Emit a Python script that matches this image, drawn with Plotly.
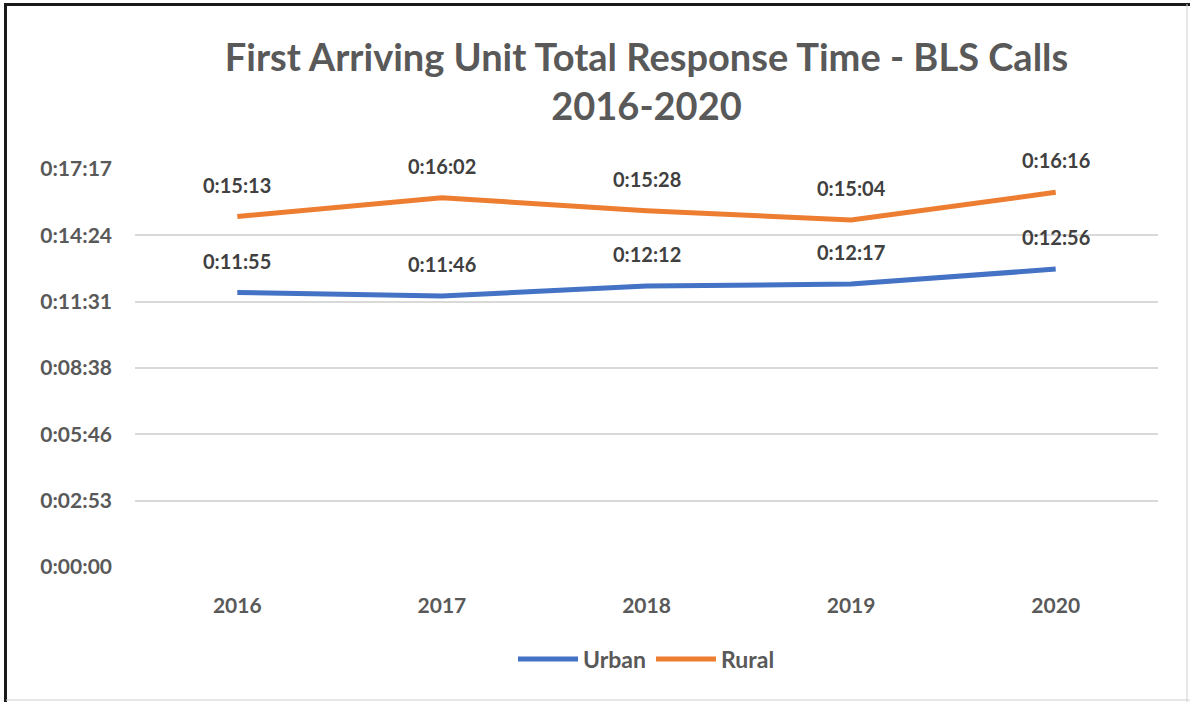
import plotly.graph_objects as go

years = ["2016", "2017", "2018", "2019", "2020"]
urban_labels = ["0:11:55", "0:11:46", "0:12:12", "0:12:17", "0:12:56"]
rural_labels = ["0:15:13", "0:16:02", "0:15:28", "0:15:04", "0:16:16"]
tick_labels = ["0:00:00", "0:02:53", "0:05:46", "0:08:38", "0:11:31", "0:14:24", "0:17:17"]

def to_sec(s):
    h, m, sec = s.split(":")
    return int(h) * 3600 + int(m) * 60 + int(sec)

urban = [to_sec(s) for s in urban_labels]
rural = [to_sec(s) for s in rural_labels]
tick_vals = [i * 172.8 for i in range(len(tick_labels))]

W, H = 1192, 702
L, R, T, B = 135, 34, 169, 135
FONT = "Lato"
GRAY = "#595959"

fig = go.Figure()
fig.add_trace(go.Scatter(x=years, y=urban, name="Urban", mode="lines",
                         line=dict(color="#4472C4", width=5)))
fig.add_trace(go.Scatter(x=years, y=rural, name="Rural", mode="lines",
                         line=dict(color="#ED7D31", width=5)))

anns = []
for ys, labs in [(urban, urban_labels), (rural, rural_labels)]:
    for i, (y, lab) in enumerate(zip(ys, labs)):
        anns.append(dict(x=i, y=y, xref="x", yref="y", text=lab, showarrow=False, yshift=32,
                         font=dict(family=FONT, size=20, color="#404040", weight="bold")))

pw = W - L - R
ph = H - T - B
def px(x):
    return (x - L) / pw
def py(y):
    return (H - B - y) / ph

shapes = [
    dict(type="line", xref="paper", yref="paper", x0=px(5.5), x1=px(5.5), y0=py(3), y1=py(702),
         line=dict(color="#1a1a1a", width=3)),
    dict(type="line", xref="paper", yref="paper", x0=px(4), x1=px(1190), y0=py(4.5), y1=py(4.5),
         line=dict(color="#1a1a1a", width=3)),
    dict(type="line", xref="paper", yref="paper", x0=px(1187), x1=px(1187), y0=py(4), y1=py(702),
         line=dict(color="#d0d0d0", width=1)),
    dict(type="line", xref="paper", yref="paper", x0=px(6), x1=px(1190), y0=py(700), y1=py(700),
         line=dict(color="#d0d0d0", width=1)),
]

fig.update_layout(
    width=W, height=H,
    margin=dict(l=L, r=R, t=T, b=B),
    paper_bgcolor="white", plot_bgcolor="white",
    title=dict(text="First Arriving Unit Total Response Time - BLS Calls<br>2016-2020",
               x=0.5, xref="paper", xanchor="center", y=1 - 71 / H, yanchor="middle",
               font=dict(family=FONT, size=38, color=GRAY, weight="bold")),
    xaxis=dict(type="category", range=[-0.5, 4.5], showgrid=False, showline=False,
               ticks="", tickfont=dict(family=FONT, size=21, color=GRAY, weight="bold"),
               ticklabelstandoff=24),
    yaxis=dict(range=[0, 1036.8], tickvals=tick_vals, ticktext=tick_labels,
               showgrid=True, gridcolor="#d9d9d9", gridwidth=2, zeroline=False,
               showline=False, ticks="",
               tickfont=dict(family=FONT, size=21, color=GRAY, weight="bold"),
               ticklabelstandoff=22),
    legend=dict(orientation="h", x=0.5, xanchor="center", y=py(659), yanchor="middle",
                font=dict(family=FONT, size=23, color=GRAY, weight="bold"),
                itemwidth=60, traceorder="normal"),
    annotations=anns,
    shapes=shapes,
    showlegend=True,
)

fig.write_html("out.html", config={"displayModeBar": False},
               post_script="document.body.style.margin='0';document.body.style.padding='0';")
